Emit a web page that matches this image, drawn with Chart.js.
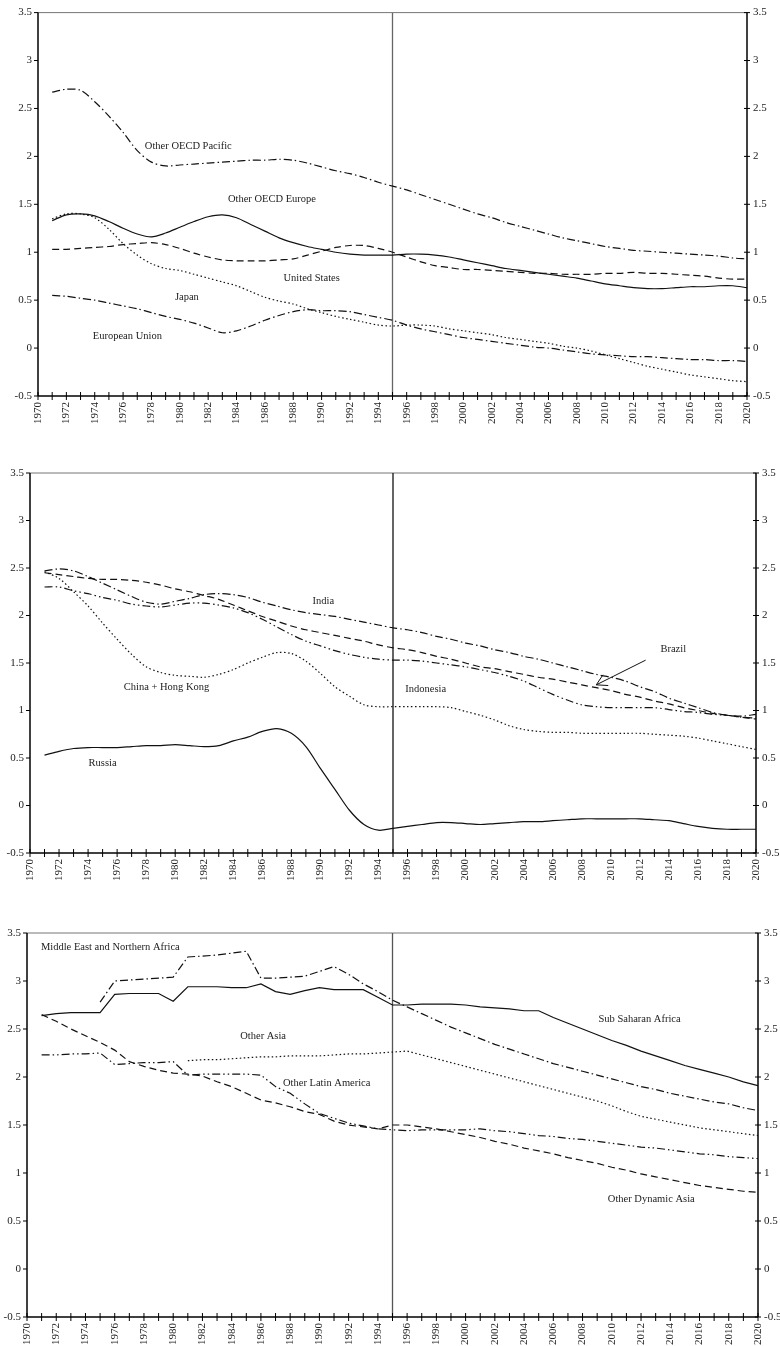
<!DOCTYPE html>
<html>
<head>
<meta charset="utf-8">
<script src="https://cdn.jsdelivr.net/npm/chart.js@4.4.0/dist/chart.umd.min.js"></script>
<style>
  html, body { margin: 0; padding: 0; background: #fff; }
  .panel { position: absolute; left: 0; width: 780px; }
</style>
</head>
<body>
<div class="panel" style="top:0;height:440px"><canvas id="c1"></canvas></div>
<div class="panel" style="top:440px;height:440px"><canvas id="c2"></canvas></div>
<div class="panel" style="top:880px;height:466px"><canvas id="c3"></canvas></div>
<script>
// years on the x axis
const years = [1970, 1971, 1972, 1973, 1974, 1975, 1976, 1977, 1978, 1979,
  1980, 1981, 1982, 1983, 1984, 1985, 1986, 1987, 1988, 1989,
  1990, 1991, 1992, 1993, 1994, 1995, 1996, 1997, 1998, 1999,
  2000, 2001, 2002, 2003, 2004, 2005, 2006, 2007, 2008, 2009,
  2010, 2011, 2012, 2013, 2014, 2015, 2016, 2017, 2018, 2019, 2020];
const yTicks = [-0.5, 0, 0.5, 1, 1.5, 2, 2.5, 3, 3.5];
const splitYear = 1995;

// panel 1 - OECD regions
const otherOecdPacific = [null, 2.67, 2.70, 2.69, 2.57, 2.42, 2.25, 2.06, 1.94, 1.90,
  1.91, 1.92, 1.93, 1.94, 1.95, 1.96, 1.96, 1.97, 1.96, 1.93,
  1.89, 1.85, 1.82, 1.78, 1.73, 1.69, 1.65, 1.60, 1.55, 1.50,
  1.45, 1.40, 1.36, 1.31, 1.27, 1.23, 1.19, 1.15, 1.12, 1.09,
  1.06, 1.04, 1.02, 1.01, 1.00, 0.99, 0.98, 0.97, 0.96, 0.94, 0.93];
const otherOecdEurope = [null, 1.33, 1.39, 1.40, 1.38, 1.32, 1.25, 1.19, 1.16, 1.20,
  1.26, 1.32, 1.37, 1.39, 1.36, 1.29, 1.22, 1.15, 1.10, 1.06,
  1.03, 1.00, 0.98, 0.97, 0.97, 0.97, 0.98, 0.98, 0.97, 0.95,
  0.92, 0.89, 0.86, 0.83, 0.81, 0.79, 0.77, 0.75, 0.73, 0.70,
  0.67, 0.65, 0.63, 0.62, 0.62, 0.63, 0.64, 0.64, 0.65, 0.65, 0.63];
const unitedStates = [null, 1.03, 1.03, 1.04, 1.05, 1.06, 1.08, 1.09, 1.10, 1.08,
  1.04, 0.99, 0.95, 0.92, 0.91, 0.91, 0.91, 0.92, 0.93, 0.97,
  1.01, 1.05, 1.07, 1.07, 1.04, 1.00, 0.95, 0.90, 0.86, 0.84,
  0.82, 0.82, 0.81, 0.80, 0.79, 0.78, 0.78, 0.77, 0.77, 0.77,
  0.78, 0.78, 0.79, 0.78, 0.78, 0.77, 0.76, 0.75, 0.73, 0.72, 0.72];
const japan = [null, 1.35, 1.40, 1.40, 1.36, 1.24, 1.09, 0.97, 0.88, 0.83,
  0.81, 0.77, 0.73, 0.69, 0.65, 0.59, 0.53, 0.49, 0.46, 0.41,
  0.37, 0.33, 0.30, 0.27, 0.24, 0.23, 0.24, 0.24, 0.23, 0.20,
  0.18, 0.16, 0.14, 0.11, 0.09, 0.07, 0.05, 0.02, 0.00, -0.03,
  -0.07, -0.11, -0.15, -0.19, -0.22, -0.25, -0.28, -0.30, -0.32, -0.34, -0.35];
const europeanUnion = [null, 0.55, 0.54, 0.52, 0.50, 0.47, 0.44, 0.41, 0.37, 0.33,
  0.30, 0.26, 0.21, 0.16, 0.18, 0.23, 0.29, 0.34, 0.38, 0.40,
  0.39, 0.39, 0.38, 0.35, 0.32, 0.29, 0.24, 0.20, 0.17, 0.14,
  0.11, 0.09, 0.07, 0.05, 0.03, 0.01, 0.00, -0.02, -0.04, -0.06,
  -0.07, -0.08, -0.09, -0.09, -0.10, -0.11, -0.12, -0.12, -0.13, -0.13, -0.14];

// panel 2 - large non-OECD countries
const india = [null, 2.47, 2.49, 2.47, 2.41, 2.34, 2.27, 2.20, 2.14, 2.12,
  2.15, 2.18, 2.22, 2.23, 2.22, 2.19, 2.14, 2.10, 2.06, 2.03,
  2.01, 1.99, 1.96, 1.93, 1.90, 1.87, 1.85, 1.82, 1.78, 1.75,
  1.71, 1.68, 1.64, 1.61, 1.57, 1.54, 1.50, 1.46, 1.42, 1.38,
  1.35, 1.31, 1.25, 1.20, 1.13, 1.08, 1.03, 0.98, 0.95, 0.94, 0.96];
const brazil = [null, 2.45, 2.43, 2.41, 2.39, 2.38, 2.38, 2.37, 2.35, 2.32,
  2.28, 2.25, 2.21, 2.17, 2.11, 2.05, 1.99, 1.94, 1.89, 1.85,
  1.82, 1.79, 1.76, 1.73, 1.69, 1.66, 1.64, 1.61, 1.57, 1.54,
  1.50, 1.46, 1.44, 1.41, 1.38, 1.35, 1.33, 1.30, 1.27, 1.24,
  1.21, 1.17, 1.14, 1.10, 1.07, 1.03, 1.00, 0.97, 0.95, 0.93, 0.91];
const indonesia = [null, 2.30, 2.30, 2.26, 2.23, 2.19, 2.16, 2.12, 2.10, 2.09,
  2.11, 2.13, 2.13, 2.11, 2.08, 2.03, 1.96, 1.88, 1.80, 1.73,
  1.68, 1.63, 1.59, 1.56, 1.54, 1.53, 1.53, 1.52, 1.50, 1.48,
  1.46, 1.43, 1.40, 1.36, 1.31, 1.24, 1.17, 1.11, 1.06, 1.04,
  1.03, 1.03, 1.03, 1.03, 1.01, 0.99, 0.98, 0.96, 0.95, 0.93, 0.92];
const chinaHongKong = [null, 2.46, 2.39, 2.25, 2.10, 1.92, 1.75, 1.59, 1.46, 1.40,
  1.37, 1.36, 1.35, 1.38, 1.43, 1.50, 1.56, 1.61, 1.60, 1.52,
  1.39, 1.25, 1.15, 1.06, 1.04, 1.04, 1.04, 1.04, 1.04, 1.03,
  0.99, 0.95, 0.90, 0.84, 0.80, 0.78, 0.77, 0.77, 0.76, 0.76,
  0.76, 0.76, 0.76, 0.75, 0.74, 0.73, 0.71, 0.68, 0.65, 0.62, 0.59];
const russia = [null, 0.53, 0.57, 0.60, 0.61, 0.61, 0.61, 0.62, 0.63, 0.63,
  0.64, 0.63, 0.62, 0.63, 0.68, 0.72, 0.78, 0.81, 0.76, 0.62,
  0.39, 0.17, -0.05, -0.20, -0.26, -0.24, -0.22, -0.20, -0.18, -0.18,
  -0.19, -0.20, -0.19, -0.18, -0.17, -0.17, -0.16, -0.15, -0.14, -0.14,
  -0.14, -0.14, -0.14, -0.15, -0.16, -0.19, -0.22, -0.24, -0.25, -0.25, -0.25];

// panel 3 - other regions
const subSaharanAfrica = [null, 2.64, 2.66, 2.67, 2.67, 2.67, 2.86, 2.87, 2.87, 2.87,
  2.79, 2.94, 2.94, 2.94, 2.93, 2.93, 2.97, 2.89, 2.86, 2.90,
  2.93, 2.91, 2.91, 2.91, 2.83, 2.75, 2.75, 2.76, 2.76, 2.76,
  2.75, 2.73, 2.72, 2.71, 2.69, 2.69, 2.62, 2.56, 2.50, 2.44,
  2.38, 2.33, 2.27, 2.22, 2.17, 2.12, 2.08, 2.04, 2.00, 1.95, 1.91];
const middleEastNAfrica = [null, null, null, null, null, 2.78, 3.00, 3.01, 3.02, 3.03,
  3.04, 3.25, 3.26, 3.27, 3.29, 3.31, 3.03, 3.03, 3.04, 3.05,
  3.10, 3.15, 3.07, 2.97, 2.89, 2.80, 2.73, 2.66, 2.59, 2.52,
  2.46, 2.40, 2.34, 2.29, 2.24, 2.19, 2.14, 2.10, 2.06, 2.02,
  1.98, 1.94, 1.90, 1.87, 1.83, 1.80, 1.77, 1.74, 1.72, 1.68, 1.65];
const otherAsia = [null, null, null, null, null, null, null, null, null, null,
  null, 2.17, 2.18, 2.18, 2.19, 2.20, 2.21, 2.21, 2.22, 2.22,
  2.22, 2.23, 2.24, 2.24, 2.25, 2.26, 2.27, 2.23, 2.19, 2.15,
  2.11, 2.07, 2.03, 1.99, 1.95, 1.91, 1.87, 1.83, 1.79, 1.75,
  1.70, 1.64, 1.59, 1.56, 1.53, 1.50, 1.47, 1.45, 1.43, 1.41, 1.39];
const otherLatinAmerica = [null, 2.23, 2.23, 2.24, 2.24, 2.25, 2.13, 2.14, 2.15, 2.15,
  2.16, 2.02, 2.03, 2.03, 2.03, 2.03, 2.02, 1.90, 1.83, 1.72,
  1.62, 1.57, 1.52, 1.49, 1.46, 1.45, 1.44, 1.45, 1.45, 1.45,
  1.45, 1.46, 1.44, 1.43, 1.41, 1.39, 1.38, 1.36, 1.35, 1.33,
  1.31, 1.29, 1.27, 1.26, 1.24, 1.22, 1.20, 1.19, 1.17, 1.16, 1.15];
const otherDynamicAsia = [null, 2.65, 2.58, 2.50, 2.43, 2.36, 2.28, 2.16, 2.11, 2.07,
  2.04, 2.03, 2.01, 1.95, 1.90, 1.83, 1.76, 1.73, 1.69, 1.64,
  1.61, 1.54, 1.50, 1.48, 1.46, 1.50, 1.50, 1.48, 1.46, 1.43,
  1.40, 1.37, 1.33, 1.30, 1.26, 1.23, 1.20, 1.16, 1.13, 1.10,
  1.06, 1.03, 0.99, 0.96, 0.93, 0.90, 0.87, 0.85, 0.83, 0.81, 0.80];

// line patterns
const SOLID = [];
const LONG = [7, 4];
const DOT = [1.5, 2.5];
const DASHDOT = [8, 3, 1.5, 3];
const DASHDOTDOT = [8, 3, 1.5, 3, 1.5, 3];

const SERIF = "'Liberation Serif', 'DejaVu Serif', serif";

function series(values, dash) {
  return {
    data: values.map((v, i) => ({ x: years[i], y: v })),
    borderColor: '#111',
    borderWidth: 1.2,
    borderDash: dash,
    pointRadius: 0,
    fill: false
  };
}

// frame, 1995 marker, tick marks, text notes
const frame = {
  id: 'frame',
  beforeDatasetsDraw(chart, args, opts) {
    const { ctx, chartArea: a } = chart;
    const x = chart.scales.x, y = chart.scales.y;
    const seg = (x1, y1, x2, y2) => { ctx.beginPath(); ctx.moveTo(x1, y1); ctx.lineTo(x2, y2); ctx.stroke(); };
    ctx.save();
    ctx.strokeStyle = '#777';
    ctx.lineWidth = 1;
    seg(a.left, a.top, a.right, a.top);
    const xm = x.getPixelForValue(splitYear);
    ctx.strokeStyle = opts.markerColor || '#333';
    ctx.lineWidth = 1.3;
    seg(xm, a.top, xm, a.bottom);
    ctx.strokeStyle = '#000';
    ctx.lineWidth = 1.5;
    seg(a.left, a.top, a.left, a.bottom);
    seg(a.right, a.top, a.right, a.bottom);
    seg(a.left, a.bottom, a.right, a.bottom);
    ctx.lineWidth = 1;
    x.ticks.forEach(t => {
      const px = x.getPixelForValue(t.value);
      seg(px, a.bottom - 4, px, a.bottom + 4);
    });
    yTicks.forEach(v => {
      const py = y.getPixelForValue(v);
      seg(a.left - 4, py, a.left, py);
      seg(a.right - 3, py, a.right + 3, py);
    });
    ctx.restore();
  },
  afterDatasetsDraw(chart, args, opts) {
    const { ctx } = chart;
    const x = chart.scales.x, y = chart.scales.y;
    ctx.save();
    ctx.fillStyle = '#222';
    ctx.font = '10.5px ' + SERIF;
    ctx.textAlign = 'center';
    ctx.textBaseline = 'middle';
    (opts.notes || []).forEach(n => {
      ctx.fillText(n.text, x.getPixelForValue(n.year), y.getPixelForValue(n.value));
    });
    if (opts.arrow) {
      const w = opts.arrow;
      const x1 = x.getPixelForValue(w.from[0]), y1 = y.getPixelForValue(w.from[1]);
      const x2 = x.getPixelForValue(w.to[0]), y2 = y.getPixelForValue(w.to[1]);
      const ang = Math.atan2(y1 - y2, x1 - x2);
      ctx.strokeStyle = '#111';
      ctx.lineWidth = 1;
      ctx.beginPath();
      ctx.moveTo(x1, y1); ctx.lineTo(x2, y2);
      [-0.52, 0.52].forEach(d => {
        ctx.moveTo(x2, y2);
        ctx.lineTo(x2 + 12 * Math.cos(ang + d), y2 + 12 * Math.sin(ang + d));
      });
      ctx.stroke();
    }
    ctx.restore();
  }
};

function makeChart(id, datasets, box, notes, arrow) {
  const tickFont = { family: SERIF, size: 11 };
  const yAxis = (pos, width) => ({
    position: pos,
    min: -0.5, max: 3.5,
    grid: { display: false, drawTicks: false },
    border: { display: false },
    afterBuildTicks: s => { s.ticks = yTicks.map(v => ({ value: v })); },
    afterFit: s => { s.width = width; },
    ticks: { color: '#222', font: tickFont, padding: 6, callback: v => String(v) }
  });
  new Chart(document.getElementById(id), {
    type: 'line',
    data: { datasets: datasets },
    options: {
      responsive: true,
      maintainAspectRatio: false,
      animation: false,
      layout: { padding: { top: box.top, left: 0, right: 0, bottom: 0 } },
      plugins: {
        legend: { display: false },
        tooltip: { enabled: false },
        frame: { notes: notes, arrow: arrow, markerColor: box.marker }
      },
      elements: { line: { tension: box.tension } },
      scales: {
        x: {
          type: 'linear',
          min: 1970, max: 2020,
          grid: { display: false, drawTicks: false },
          border: { display: false },
          afterBuildTicks: s => { s.ticks = years.map(v => ({ value: v })); },
          afterFit: s => { s.height = box.xh; },
          ticks: {
            color: '#222', font: tickFont, padding: 6,
            autoSkip: false, minRotation: 90, maxRotation: 90,
            callback: v => (v % 2 === 0 ? String(v) : '')
          }
        },
        y: yAxis('left', box.left),
        y2: yAxis('right', box.right)
      }
    },
    plugins: [frame]
  });
}

makeChart('c1', [
  series(otherOecdPacific, DASHDOT),
  series(otherOecdEurope, SOLID),
  series(unitedStates, LONG),
  series(japan, DOT),
  series(europeanUnion, DASHDOT)
], { top: 12, left: 38, right: 33, xh: 44, tension: 0.3, marker: '#666' }, [
  { text: 'Other OECD Pacific', year: 1980.6, value: 2.11 },
  { text: 'Other OECD Europe', year: 1986.5, value: 1.55 },
  { text: 'United States', year: 1989.3, value: 0.73 },
  { text: 'Japan', year: 1980.5, value: 0.53 },
  { text: 'European Union', year: 1976.3, value: 0.12 }
]);

makeChart('c2', [
  series(india, DASHDOT),
  series(brazil, LONG),
  series(indonesia, DASHDOTDOT),
  series(chinaHongKong, DOT),
  series(russia, SOLID)
], { top: 33, left: 30, right: 24, xh: 27, tension: 0.3, marker: '#111' }, [
  { text: 'India', year: 1990.2, value: 2.15 },
  { text: 'China + Hong Kong', year: 1979.4, value: 1.25 },
  { text: 'Russia', year: 1975.0, value: 0.44 },
  { text: 'Indonesia', year: 1997.25, value: 1.22 },
  { text: 'Brazil', year: 2014.3, value: 1.65 }
], { from: [2012.4, 1.53], to: [2009.0, 1.27] });

makeChart('c3', [
  series(subSaharanAfrica, SOLID),
  series(middleEastNAfrica, DASHDOT),
  series(otherAsia, DOT),
  series(otherLatinAmerica, DASHDOTDOT),
  series(otherDynamicAsia, LONG)
], { top: 53, left: 27, right: 22, xh: 29, tension: 0, marker: '#555' }, [
  { text: 'Middle East and Northern Africa', year: 1975.7, value: 3.35 },
  { text: 'Other Asia', year: 1986.15, value: 2.42 },
  { text: 'Other Latin America', year: 1990.5, value: 1.93 },
  { text: 'Sub Saharan Africa', year: 2011.9, value: 2.60 },
  { text: 'Other Dynamic Asia', year: 2012.7, value: 0.73 }
]);
</script>
</body>
</html>
